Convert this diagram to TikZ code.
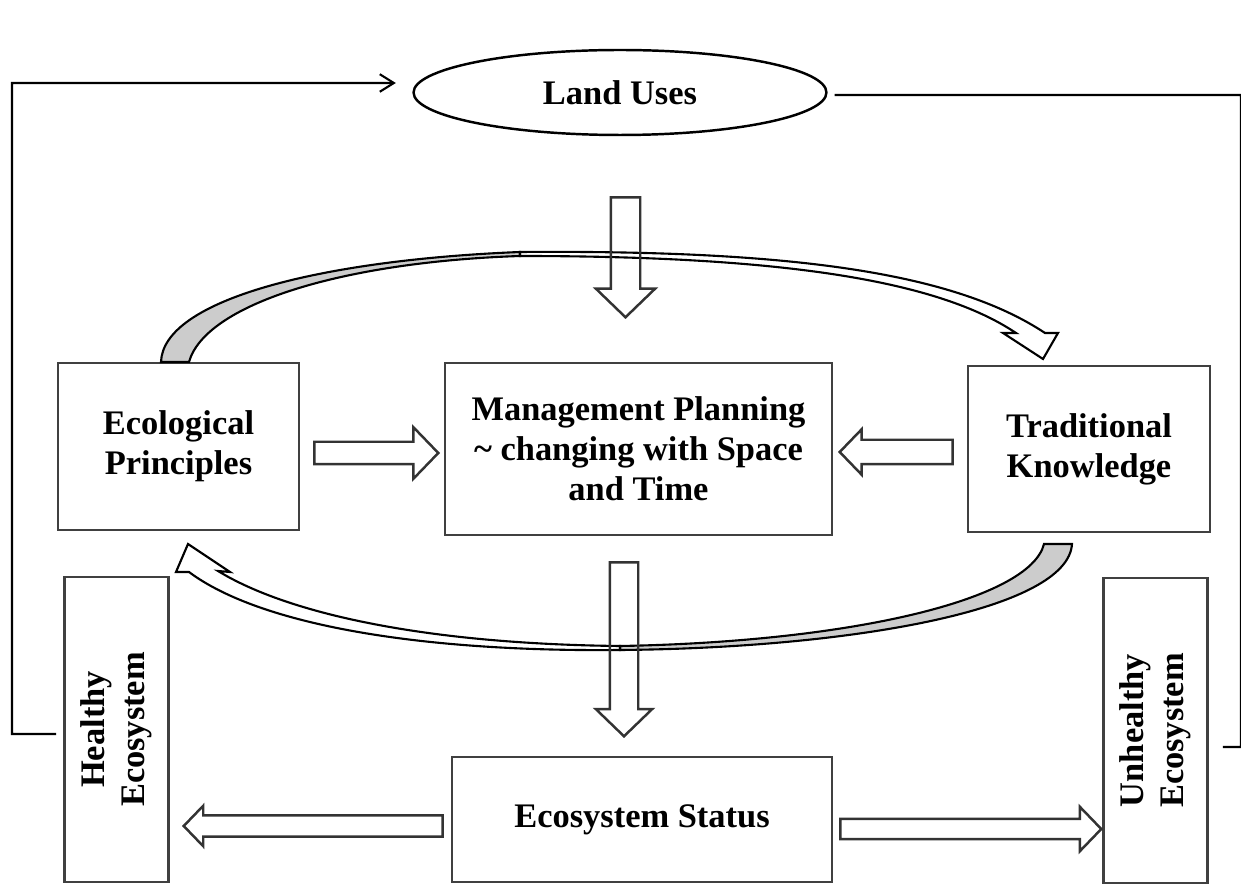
\documentclass[tikz,border=0pt]{standalone}
\usepackage{fontspec}
\setmainfont{Liberation Serif}
\usetikzlibrary{arrows.meta, positioning, calc, shapes.geometric, shapes.arrows}

\begin{document}
\begin{tikzpicture}[
  x=0.02cm, y=-0.02cm,
  box/.style  = {draw=black!75, line width=1.6pt, align=center, inner sep=2pt,
                 font=\fontsize{19.6}{22.8}\selectfont\bfseries},
  vbox/.style = {box, rotate=90, minimum width=6.1cm, minimum height=2.08cm},
  blk/.style  = {single arrow, draw=black!80, line width=1.4pt, inner sep=0pt,
                 single arrow tip angle=92, anchor=tip},
  fb/.style   = {draw, line width=1.2pt},
  band/.style = {draw, line width=1.2pt, line join=miter},
]
\useasboundingbox (0,0) rectangle (1241,884);

% ── Land uses ────────────────────────────────────────────────────────────────
\node[draw, ellipse, line width=1.4pt, minimum width=8.26cm, minimum height=1.7cm,
      font=\fontsize{19.6}{22.8}\selectfont\bfseries] (land) at (620,92.5) {Land Uses};

% ── Middle row ───────────────────────────────────────────────────────────────
\node[box, minimum width=4.82cm, minimum height=3.34cm] (eco)  at (178.5,446.5)
      {Ecological\\Principles};
\node[box, minimum width=7.74cm, minimum height=3.44cm] (plan) at (638.5,449)
      {Management Planning\\\textasciitilde{} changing with Space\\and Time};
\node[box, minimum width=4.84cm, minimum height=3.32cm] (trad) at (1089,449)
      {Traditional\\Knowledge};

% ── Bottom row ───────────────────────────────────────────────────────────────
\node[box, minimum width=7.6cm, minimum height=2.5cm] (status) at (642,819.5)
      {Ecosystem Status};
\node[vbox] (healthy)   at (116.5,729.5)  {Healthy\\Ecosystem};
\node[vbox] (unhealthy) at (1155.5,730.5) {Unhealthy\\Ecosystem};

% ── Curved arrows ────────────────────────────────────────────────────────────
\filldraw[band, fill=black!20] (161,362) .. controls (163,300) and (320,260) .. (520,252)
  -- (520,256) .. controls (340,262) and (205,305) .. (189,362) -- cycle;
\filldraw[band, fill=white] (520,252) .. controls (780,250) and (950,270) .. (1045,333)
  -- (1058,333) -- (1043,359) -- (1003,333) -- (1016,333)
  .. controls (940,282) and (790,256) .. (520,256) -- cycle;

\filldraw[band, fill=black!20] (1072,544) .. controls (1068,610) and (850,648) .. (620,650)
  -- (620,646) .. controls (850,642) and (1030,600) .. (1044,544) -- cycle;
\filldraw[band, fill=white] (620,650) .. controls (420,652) and (260,625) .. (189,572)
  -- (176,572) -- (188,544) -- (230,572) -- (218,571)
  .. controls (290,615) and (430,644) .. (620,646) -- cycle;

% ── Block arrows ─────────────────────────────────────────────────────────────
\node[blk, rotate=-90, minimum height=2.4cm, inner ysep=0.27cm,
      single arrow head extend=0.3cm]  (landplan)   at (625.5,319) {};
\node[blk, rotate=-90, minimum height=3.48cm, inner ysep=0.26cm,
      single arrow head extend=0.28cm] (planstatus) at (624,738) {};
\node[blk, minimum height=2.48cm, inner ysep=0.2cm,
      single arrow head extend=0.29cm] (ecoplan)    at (440,453) {};
\node[blk, rotate=180, minimum height=2.26cm, inner ysep=0.22cm,
      single arrow head extend=0.21cm] (tradplan)   at (838,452) {};
\node[blk, rotate=180, minimum height=5.18cm, inner ysep=0.19cm,
      single arrow head extend=0.19cm] (stathealthy) at (182,826) {};
\node[blk, minimum height=5.22cm, inner ysep=0.18cm,
      single arrow head extend=0.24cm] (statunhealthy) at (1103,829) {};

% ── Feedback lines ───────────────────────────────────────────────────────────
\coordinate (hcorner) at (12,734);
\coordinate (ucorner) at (1241,747);
\draw[fb, -{Straight Barb[length=8pt, width=10pt]}]
  ([xshift=-0.14cm, yshift=-0.09cm]healthy.north) -- (hcorner)
  |- ([xshift=-0.33cm, yshift=0.19cm]land.west);
\draw[fb] ([xshift=0.14cm, yshift=-0.05cm]land.east) -| (ucorner)
  -- ([xshift=0.28cm, yshift=-0.33cm]unhealthy.south);

\end{tikzpicture}
\end{document}
